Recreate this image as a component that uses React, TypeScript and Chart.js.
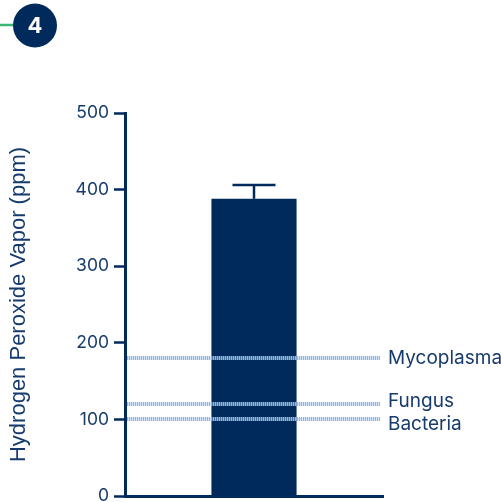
import React, { useEffect, useRef } from "react";
import { Chart, registerables } from "chart.js";

Chart.register(...registerables);

const categories = ["HPV"];
const concentration = [388];
const errorUpper = [406];
const thresholdNames = ["Mycoplasma", "Fungus", "Bacteria"];
const thresholdValues = [180, 120, 100];
const yTicks = [0, 100, 200, 300, 400, 500];

const NAVY = "#002a5c";
const TEXT = "#173b6c";
const DOT_BLUE = "#86b9e6";
const DOT_BAND = "rgba(160, 200, 238, 0.45)";

const overlayPlugin = {
  id: "overlay",
  afterDatasetsDraw(chart: any) {
    const { ctx, chartArea, scales } = chart;
    const y = scales.y;
    const meta = chart.getDatasetMeta(0);

    // error bar
    ctx.save();
    ctx.strokeStyle = NAVY;
    ctx.lineWidth = 2.5;
    meta.data.forEach((bar: any, i: number) => {
      const top = y.getPixelForValue(errorUpper[i]);
      ctx.beginPath();
      ctx.moveTo(bar.x, bar.y);
      ctx.lineTo(bar.x, top);
      ctx.stroke();
      ctx.beginPath();
      ctx.moveTo(bar.x - 21.5, top);
      ctx.lineTo(bar.x + 21.5, top);
      ctx.stroke();
    });
    ctx.restore();

    // threshold lines: pale band with 1px stripes every other pixel
    ctx.save();
    const x0 = Math.round(chartArea.left) + 2;
    const x1 = Math.round(chartArea.right) - 3;
    thresholdValues.forEach((v) => {
      const py = Math.round(y.getPixelForValue(v));
      ctx.fillStyle = DOT_BAND;
      ctx.fillRect(x0, py - 2, x1 - x0, 4);
      ctx.fillStyle = DOT_BLUE;
      for (let x = x0; x < x1; x += 2) {
        ctx.fillRect(x, py - 2, 1, 4);
      }
    });
    ctx.fillStyle = TEXT;
    ctx.font = "19px Inter";
    ctx.textBaseline = "middle";
    ctx.textAlign = "left";
    thresholdNames.forEach((name, i) => {
      const py = y.getPixelForValue(thresholdValues[i]);
      const off = name === "Bacteria" ? 5 : name === "Fungus" ? -3 : 0;
      ctx.fillText(name, chartArea.right + 5, py + off);
    });
    ctx.restore();

    // step badge
    ctx.save();
    ctx.strokeStyle = "#3fb574";
    ctx.lineWidth = 2.5;
    ctx.beginPath();
    ctx.moveTo(0, 25);
    ctx.lineTo(14, 25);
    ctx.stroke();
    ctx.fillStyle = NAVY;
    ctx.beginPath();
    ctx.arc(35, 25.5, 22, 0, Math.PI * 2);
    ctx.fill();
    ctx.fillStyle = "#ffffff";
    ctx.font = "bold 22px Inter";
    ctx.textAlign = "center";
    ctx.textBaseline = "middle";
    ctx.fillText("4", 35, 26);
    ctx.restore();
  },
};

export default function App() {
  const ref = useRef<HTMLCanvasElement | null>(null);

  useEffect(() => {
    if (!ref.current) return;
    const chart = new Chart(ref.current, {
      type: "bar",
      data: {
        labels: categories,
        datasets: [
          {
            data: concentration,
            backgroundColor: NAVY,
            borderWidth: 0,
            barPercentage: 0.33,
            categoryPercentage: 1,
          },
        ],
      },
      options: {
        responsive: false,
        animation: false,
        layout: { padding: { top: 113, right: 118, bottom: 6, left: 0 } },
        plugins: { legend: { display: false }, tooltip: { enabled: false } },
        scales: {
          x: {
            ticks: { display: false },
            grid: { display: false, drawTicks: false },
            border: { display: true, color: NAVY, width: 3 },
            afterFit: (scale: any) => {
              scale.height = 0;
              scale.paddingLeft = 0;
              scale.paddingRight = 0;
            },
          },
          y: {
            min: 0,
            max: 500,
            afterBuildTicks: (scale: any) => {
              scale.ticks = yTicks.map((v) => ({ value: v }));
            },
            afterFit: (scale: any) => {
              scale.width = 125;
              scale.paddingTop = 0;
              scale.paddingBottom = 0;
            },
            ticks: {
              color: TEXT,
              font: { family: "Inter", size: 17.5 },
              padding: 5,
            },
            grid: {
              drawOnChartArea: false,
              drawTicks: true,
              tickLength: 11,
              tickWidth: 2.5,
              tickColor: NAVY,
            },
            border: { display: true, color: NAVY, width: 3 },
            title: {
              display: true,
              text: "Hydrogen Peroxide Vapor (ppm)",
              color: TEXT,
              font: { family: "Liberation Sans", size: 22 },
              padding: { top: 6, bottom: 0 },
            },
          },
        },
      },
      plugins: [overlayPlugin],
    });
    return () => chart.destroy();
  }, []);

  return (
    <div style={{ position: "absolute", left: 0, top: 0, width: 501, height: 502, background: "#fff" }}>
      <canvas ref={ref} width={501} height={502} />
    </div>
  );
}
